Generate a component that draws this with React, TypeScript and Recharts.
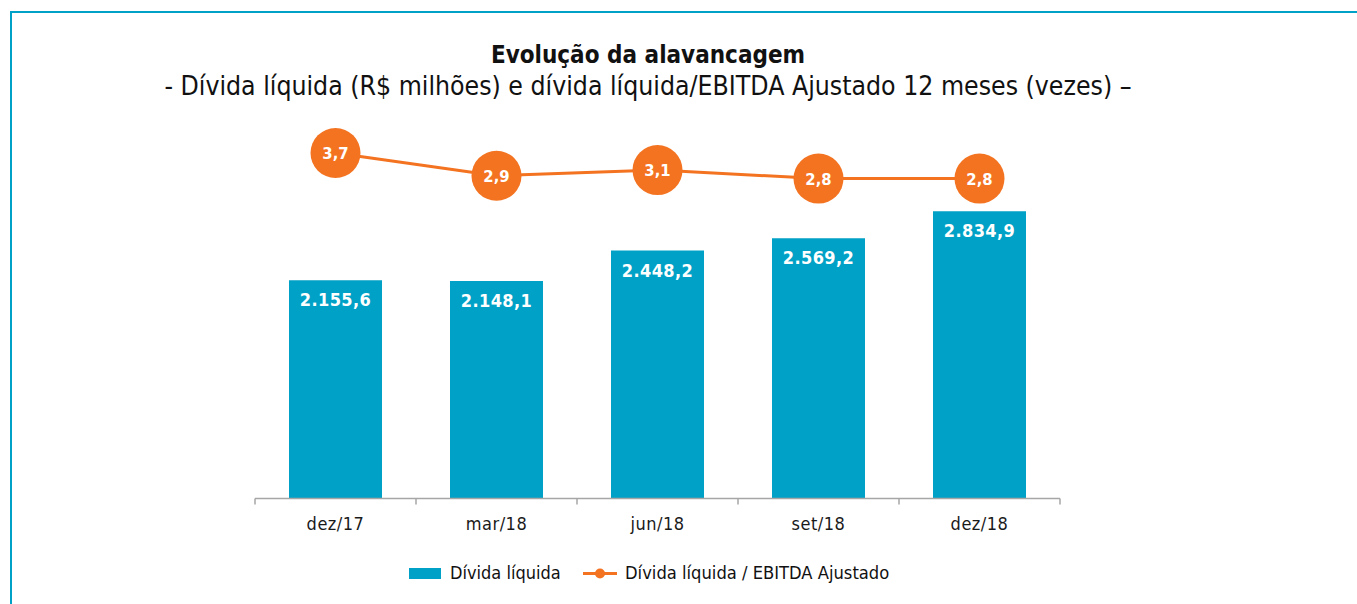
import React from 'react';
import { ComposedChart, Bar, Line, XAxis, YAxis, LabelList } from 'recharts';

const periods = ['dez/17', 'mar/18', 'jun/18', 'set/18', 'dez/18'];
const netDebt = [2155.6, 2148.1, 2448.2, 2569.2, 2834.9];
const leverage = [3.7, 2.9, 3.1, 2.8, 2.8];

const TITLE = 'Evolução da alavancagem';
const SUBTITLE = '- Dívida líquida (R$ milhões) e dívida líquida/EBITDA Ajustado 12 meses (vezes) –';
const BAR_NAME = 'Dívida líquida';
const LINE_NAME = 'Dívida líquida / EBITDA Ajustado';

const data = periods.map((p, i) => ({ period: p, netDebt: netDebt[i], leverage: leverage[i] }));

const TEAL = '#00A1C6';
const ORANGE = '#F37321';
const AXIS = '#A6A6A6';
const FONT = "'DejaVu Sans Condensed', 'DejaVu Sans', sans-serif";

const W = 1357;
const H = 604;
const X_AXIS_H = 30;
const MARGIN = { top: 130, right: 297, bottom: 105.5 - X_AXIS_H, left: 255 };
const BAND_HALF = (W - MARGIN.left - MARGIN.right) / periods.length / 2;
const TICK_SIZE = 6;
const TICK_MARGIN = 0;

function fmt(v: number): string {
  const [i, d] = v.toFixed(1).split('.');
  return i.replace(/\B(?=(\d{3})+(?!\d))/g, '.') + ',' + d;
}

const AxisTick = (props: any) => {
  const { x, y, payload, index } = props;
  const axisY = y - TICK_SIZE - TICK_MARGIN;
  const last = index === periods.length - 1;
  return (
    <g>
      <line x1={x - BAND_HALF} x2={x - BAND_HALF} y1={axisY} y2={axisY + 6} stroke={AXIS} strokeWidth={1.5} />
      {last && <line x1={x + BAND_HALF} x2={x + BAND_HALF} y1={axisY} y2={axisY + 6} stroke={AXIS} strokeWidth={1.5} />}
      <text x={x} y={axisY + 31} textAnchor="middle" fontFamily={FONT} fontSize={18} fill="#1a1a1a" letterSpacing={0.5}>
        {payload.value}
      </text>
    </g>
  );
};

const BarLabel = (props: any) => {
  const { x, y, width, value } = props;
  return (
    <text x={Number(x) + Number(width) / 2} y={Number(y) + 26} textAnchor="middle" fontFamily={FONT} fontWeight="bold" fontSize={18} fill="#fff" letterSpacing={0.4}>
      {fmt(Number(value))}
    </text>
  );
};

const CircleLabel = (props: any) => {
  const { x, y, value } = props;
  return (
    <text x={Number(x)} y={Number(y) + 6} textAnchor="middle" fontFamily={FONT} fontWeight="bold" fontSize={16.5} fill="#fff">
      {fmt(Number(value))}
    </text>
  );
};

export default function App() {
  return (
    <div style={{ position: 'absolute', left: 0, top: 0, width: W, height: H, overflow: 'hidden', background: '#fff' }}>
      <div style={{ position: 'absolute', left: 10, top: 11, width: 1500, height: 800, borderLeft: `2.5px solid ${TEAL}`, borderTop: `2.5px solid ${TEAL}` }} />
      <div style={{ position: 'absolute', left: 0, top: 0 }}>
        <ComposedChart width={W} height={H} data={data} margin={MARGIN}>
          <XAxis
            dataKey="period"
            height={X_AXIS_H}
            axisLine={{ stroke: AXIS, strokeWidth: 1.5 }}
            tickLine={false}
            tickSize={TICK_SIZE}
            tickMargin={TICK_MARGIN}
            tick={<AxisTick />}
            interval={0}
          />
          <YAxis yAxisId="bar" hide domain={[0, 3638]} />
          <YAxis yAxisId="ratio" hide orientation="right" domain={[-8.46, 4.51]} />
          <Bar yAxisId="bar" dataKey="netDebt" name={BAR_NAME} fill={TEAL} barSize={93} isAnimationActive={false}>
            <LabelList dataKey="netDebt" content={<BarLabel />} />
          </Bar>
          <Line
            yAxisId="ratio"
            dataKey="leverage"
            name={LINE_NAME}
            stroke={ORANGE}
            strokeWidth={3}
            dot={{ r: 25, fill: ORANGE, stroke: 'none', strokeWidth: 0 }}
            activeDot={false}
            isAnimationActive={false}
          >
            <LabelList dataKey="leverage" content={<CircleLabel />} />
          </Line>
        </ComposedChart>
      </div>
      <svg width={W} height={H} style={{ position: 'absolute', left: 0, top: 0, pointerEvents: 'none' }}>
        <text x={648} y={63} textAnchor="middle" fontFamily={FONT} fontWeight="bold" fontSize={24} fill="#111">{TITLE}</text>
        <text x={648} y={95} textAnchor="middle" fontFamily={FONT} fontSize={26.4} fill="#111">{SUBTITLE}</text>
        <rect x={409} y={568} width={32} height={11} fill={TEAL} />
        <text x={450} y={578.5} fontFamily={FONT} fontSize={18} fill="#111">{BAR_NAME}</text>
        <line x1={583} x2={617} y1={573.5} y2={573.5} stroke={ORANGE} strokeWidth={3} />
        <circle cx={600} cy={573.5} r={5} fill={ORANGE} />
        <text x={625} y={578.5} fontFamily={FONT} fontSize={18.2} fill="#111">{LINE_NAME}</text>
      </svg>
    </div>
  );
}
